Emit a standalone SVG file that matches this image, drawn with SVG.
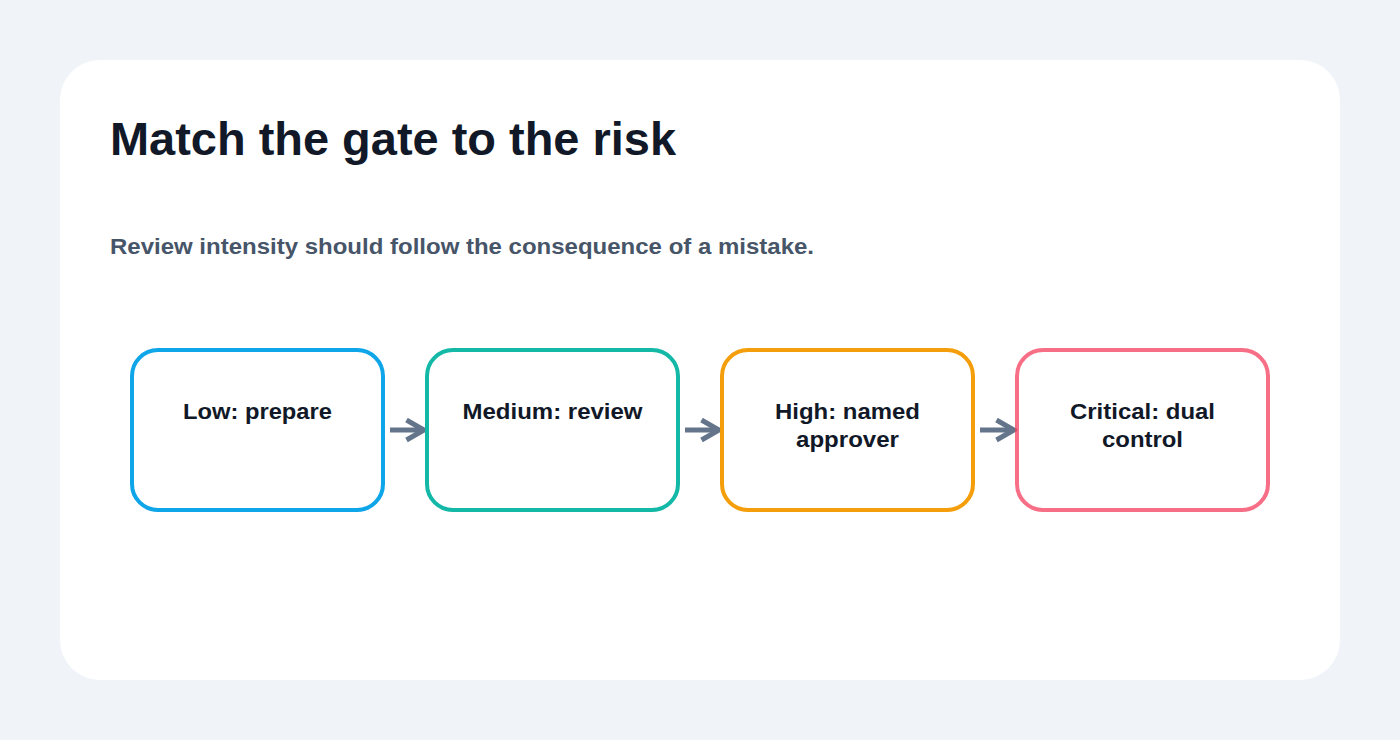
<svg xmlns="http://www.w3.org/2000/svg" width="1400" height="740" viewBox="0 0 1400 740">
<defs>
<marker id="ah" viewBox="0 0 10 10" refX="8" refY="5" markerWidth="5" markerHeight="5" orient="auto" markerUnits="strokeWidth"><path d="M1,1 L8,5 L1,9" fill="none" stroke="#64748b" stroke-width="2"/></marker>
<style>
.box{fill:#fff;stroke-width:4}
.lbl{font-family:"Liberation Sans",Arial,sans-serif;font-weight:bold;font-size:22px;fill:#111827;text-anchor:middle}
.con{stroke:#64748b;stroke-width:5;fill:none;marker-end:url(#ah)}
</style>
</defs>
<rect width="1400" height="740" fill="#f0f4f8"/>
<rect x="60" y="60" width="1280" height="620" rx="40" fill="#fff"/>
<text x="110" y="155" font-family="Liberation Sans,Arial,sans-serif" font-weight="bold" font-size="46" fill="#111827" textLength="566" lengthAdjust="spacingAndGlyphs">Match the gate to the risk</text>
<text x="110" y="254" font-family="Liberation Sans,Arial,sans-serif" font-weight="bold" font-size="22" fill="#475569" textLength="704" lengthAdjust="spacingAndGlyphs">Review intensity should follow the consequence of a mistake.</text>
<g id="connectors">
<line class="con" x1="390" y1="430" x2="424" y2="430"/>
<line class="con" x1="685" y1="430" x2="719" y2="430"/>
<line class="con" x1="980" y1="430" x2="1014" y2="430"/>
</g>
<g id="n1"><rect class="box" x="132" y="350" width="251" height="160" rx="26" stroke="#0ea5e9"/><text class="lbl" x="257.5" y="419" textLength="149" lengthAdjust="spacingAndGlyphs">Low: prepare</text></g>
<g id="n2"><rect class="box" x="427" y="350" width="251" height="160" rx="26" stroke="#14b8a6"/><text class="lbl" x="552.5" y="419" textLength="180" lengthAdjust="spacingAndGlyphs">Medium: review</text></g>
<g id="n3"><rect class="box" x="722" y="350" width="251" height="160" rx="26" stroke="#f59e0b"/><text class="lbl" x="847.5" y="419" textLength="145" lengthAdjust="spacingAndGlyphs">High: named</text><text class="lbl" x="847.5" y="447" textLength="103" lengthAdjust="spacingAndGlyphs">approver</text></g>
<g id="n4"><rect class="box" x="1017" y="350" width="251" height="160" rx="26" stroke="#f43f5e" stroke-opacity="0.75"/><text class="lbl" x="1142.5" y="419" textLength="145" lengthAdjust="spacingAndGlyphs">Critical: dual</text><text class="lbl" x="1142.5" y="447" textLength="81" lengthAdjust="spacingAndGlyphs">control</text></g>
</svg>
